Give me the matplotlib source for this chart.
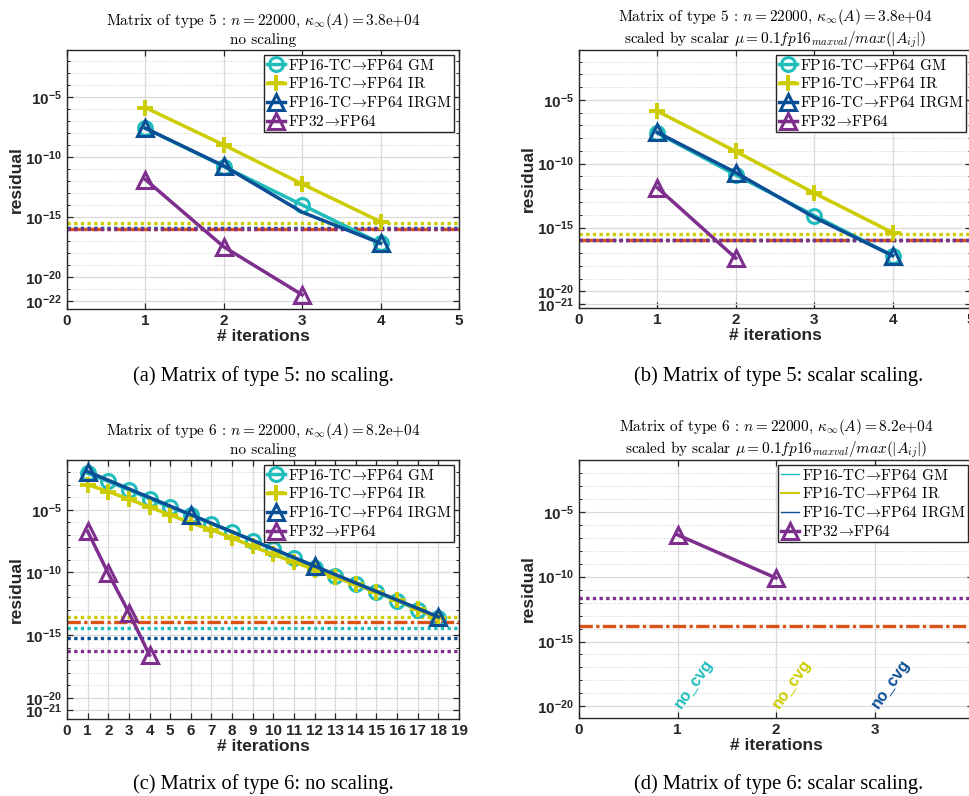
import math
import matplotlib
matplotlib.use("Agg")
import matplotlib.pyplot as plt
from matplotlib.lines import Line2D
from matplotlib.ticker import FixedLocator, FuncFormatter, NullFormatter

# ==========================================
# Dane
# ==========================================
ARROW = "$\\!\\rightarrow\\!$"
labels = ["FP16-TC" + ARROW + "FP64 GM", "FP16-TC" + ARROW + "FP64 IR",
          "FP16-TC" + ARROW + "FP64 IRGM", "FP32" + ARROW + "FP64"]

# (a) typ 5, bez skalowania
a_it = [1, 2, 3, 4]
a_gm = [2.5e-08, 1.6e-11, 1.0e-14, 6.3e-18]
a_ir = [1.3e-06, 1.0e-09, 5.6e-13, 4.0e-16]
a_irgm = [2.5e-08, 1.8e-11, 2.5e-15, 6.3e-18]
a_fp32_it = [1, 2, 3]
a_fp32 = [1.3e-12, 3.2e-18, 3.2e-22]
a_levels = {"ir": 3.4e-16, "gm": 1.2e-16, "irgm": 1.2e-16, "orange": 1.07e-16, "fp32": 1.07e-16}

# (b) typ 5, skalowanie skalarne
b_it = [1, 2, 3, 4]
b_gm = [2.5e-08, 1.3e-11, 8.7e-15, 6.3e-18]
b_ir = [1.3e-06, 9.1e-10, 5.0e-13, 4.0e-16]
b_irgm = [2.8e-08, 2.0e-11, 6.3e-15, 6.3e-18]
b_fp32_it = [1, 2]
b_fp32 = [1.3e-12, 4.0e-18]
b_levels = {"ir": 3.2e-16, "gm": 1.15e-16, "irgm": 1.15e-16, "orange": 1.15e-16, "fp32": 1.15e-16}

# (c) typ 6, bez skalowania
c_it = list(range(1, 19))
c_gm = [8.1e-03, 1.8e-03, 3.9e-04, 7.4e-05, 1.6e-05, 4.0e-06, 7.9e-07, 1.7e-07, 3.5e-08,
        6.8e-09, 1.4e-09, 2.3e-10, 5.1e-11, 1.1e-11, 2.5e-12, 5.6e-13, 1.0e-13, 2.5e-14]
c_ir = [1.0e-03, 2.8e-04, 7.1e-05, 1.6e-05, 4.0e-06, 8.7e-07, 2.6e-07, 5.6e-08, 1.2e-08,
        2.7e-09, 6.6e-10, 1.7e-10, 4.0e-11, 1.1e-11, 2.8e-12, 6.3e-13, 1.1e-13, 2.1e-14]
c_irgm_it = [1, 6, 12, 18]
c_irgm = [1.1e-02, 4.0e-06, 3.2e-10, 2.8e-14]
c_fp32_it = [1, 2, 3, 4]
c_fp32 = [1.9e-07, 8.3e-11, 6.3e-14, 2.5e-17]
c_levels = {"ir": 2.8e-14, "orange": 1.15e-14, "gm": 3.4e-15, "irgm": 5.8e-16, "fp32": 5.6e-17}

# (d) typ 6, skalowanie skalarne
d_fp32_it = [1, 2]
d_fp32 = [1.7e-07, 7.9e-11]
d_levels = {"orange": 1.5e-14, "fp32": 2.3e-12}
d_nocvg_x = [1, 2, 3]

# ==========================================
# Styl
# ==========================================
C_GM = "#21BDBD"
C_IR = "#CCCC00"
C_IRGM = "#0A4F96"
C_FP32 = "#7E2F8E"
C_OR = "#D95319"
DARK = "#262626"

plt.rcParams["font.family"] = "Liberation Sans"
plt.rcParams["font.weight"] = "bold"
plt.rcParams["mathtext.fontset"] = "custom"
plt.rcParams["mathtext.rm"] = "Liberation Sans:bold"
plt.rcParams["mathtext.bf"] = "Liberation Sans:bold"
plt.rcParams["mathtext.it"] = "Liberation Sans:bold"

TITLE_KW = dict(fontfamily="cmr10", math_fontfamily="cm", fontweight="normal", fontsize=11)
DOTS = (0, (1, 1))
DASHDOT = (0, (4, 1, 1, 1))


def draw_levels(ax, lv, xmax):
    styles = {"ir": (C_IR, DOTS), "gm": (C_GM, DOTS), "irgm": (C_IRGM, DOTS),
              "orange": (C_OR, DASHDOT), "fp32": (C_FP32, DOTS)}
    for key in ["ir", "gm", "irgm", "orange", "fp32"]:
        if key in lv:
            col, ls = styles[key]
            ax.plot([0, xmax], [lv[key], lv[key]], color=col, linestyle=ls, lw=2.4, zorder=2)


def style_axes(ax, xmax, ylim, yticks_exp, xticks):
    ax.set_yscale("log")
    ax.set_xlim(0, xmax)
    ax.set_ylim(*ylim)
    ax.set_xticks(list(xticks))
    ax.yaxis.set_major_locator(FixedLocator([10.0 ** e for e in yticks_exp]))
    ax.yaxis.set_major_formatter(FuncFormatter(lambda v, p: "$\\mathbf{10^{%d}}$" % round(math.log10(v))))
    minors = [10.0 ** e for e in range(-23, 0) if e not in yticks_exp]
    ax.yaxis.set_minor_locator(FixedLocator(minors))
    ax.yaxis.set_minor_formatter(NullFormatter())
    ax.grid(True, which="major", color="#DADADA", lw=0.9, linestyle="-", zorder=0)
    ax.grid(True, which="minor", axis="y", color="#C8C8C8", lw=0.7, linestyle=(0, (1, 2)), zorder=0)
    ax.set_axisbelow(True)
    ax.tick_params(which="both", direction="in", top=True, right=True, colors=DARK, labelsize=11)
    ax.tick_params(which="major", length=4, width=0.9)
    ax.tick_params(which="minor", length=2, width=0.7)
    for lbl in ax.get_xticklabels():
        lbl.set_fontweight("bold")
    for sp in ax.spines.values():
        sp.set_color(DARK)
        sp.set_linewidth(1.0)
    ax.set_xlabel("# iterations", fontsize=12.5, fontweight="bold", color=DARK, labelpad=1)
    ax.set_ylabel("residual", fontsize=12.5, fontweight="bold", color=DARK, labelpad=1)


def add_legend(ax, handles=None):
    kw = dict(loc="upper right", prop=dict(family="cmr10", size=11, math_fontfamily="cm"),
              fancybox=False, framealpha=1, edgecolor=DARK, borderpad=0.2,
              labelspacing=0.25, handlelength=1.2, handletextpad=0.15, borderaxespad=0.3)
    if handles is None:
        leg = ax.legend(**kw)
    else:
        leg = ax.legend(handles=handles, labels=labels, **kw)
    leg.get_frame().set_linewidth(1.0)
    leg.set_zorder(10)


def draw_series(ax, it, gm, ir, irgm_it, irgm, fp32_it, fp32, irgm_every=None):
    ax.plot(it, gm, color=C_GM, lw=2.5, marker="o", ms=10, mfc="none", mew=2.2, label=labels[0], zorder=3)
    ax.plot(it, ir, color=C_IR, lw=2.5, marker="+", ms=12, mew=2.8, label=labels[1], zorder=4)
    ax.plot(irgm_it, irgm, color=C_IRGM, lw=2.5, marker="^", ms=11, mfc="none", mew=2.2,
            markevery=irgm_every, label=labels[2], zorder=5)
    ax.plot(fp32_it, fp32, color=C_FP32, lw=2.5, marker="^", ms=11, mfc="none", mew=2.2,
            label=labels[3], zorder=6)


fig = plt.figure(figsize=(9.69, 7.96), dpi=100)
W, H = 969.0, 796.0


def axes_px(l, r, t, b):
    return fig.add_axes([l / W, 1 - b / H, (r - l) / W, (b - t) / H])


ax_a = axes_px(67, 459, 50, 309)
ax_b = axes_px(579, 971, 50, 308)
ax_c = axes_px(67, 459, 460, 719)
ax_d = axes_px(579, 973, 460, 718)

# (a)
draw_levels(ax_a, a_levels, 5)
draw_series(ax_a, a_it, a_gm, a_ir, a_it, a_irgm, a_fp32_it, a_fp32, irgm_every=[0, 1, 3])
style_axes(ax_a, 5, (2.1e-23, 0.083), [-22, -20, -15, -10, -5], range(0, 6))
ax_a.set_title("Matrix of type 5 : $n = 22000$, $\\kappa_{\\infty}(A) = 3.8$e+04\nno scaling", pad=4, **TITLE_KW)
add_legend(ax_a)

# (b)
draw_levels(ax_b, b_levels, 5)
draw_series(ax_b, b_it, b_gm, b_ir, b_it, b_irgm, b_fp32_it, b_fp32, irgm_every=[0, 1, 3])
style_axes(ax_b, 5, (5e-22, 0.08), [-21, -20, -15, -10, -5], range(0, 6))
ax_b.set_title("Matrix of type 5 : $n = 22000$, $\\kappa_{\\infty}(A) = 3.8$e+04\n"
               "scaled by scalar $\\mu = 0.1 fp16_{maxval}/max(|A_{ij}|)$", pad=4, **TITLE_KW)
add_legend(ax_b)

# (c)
draw_levels(ax_c, c_levels, 19)
draw_series(ax_c, c_it, c_gm, c_ir, c_irgm_it, c_irgm, c_fp32_it, c_fp32)
style_axes(ax_c, 19, (2e-22, 0.093), [-21, -20, -15, -10, -5], range(0, 20))
ax_c.set_title("Matrix of type 6 : $n = 22000$, $\\kappa_{\\infty}(A) = 8.2$e+04\nno scaling", pad=4, **TITLE_KW)
add_legend(ax_c)

# (d)
draw_levels(ax_d, d_levels, 4)
ax_d.plot(d_fp32_it, d_fp32, color=C_FP32, lw=2.5, marker="^", ms=11, mfc="none", mew=2.2, zorder=6)
style_axes(ax_d, 4, (1.26e-21, 0.1), [-20, -15, -10, -5], range(0, 5))
ax_d.set_title("Matrix of type 6 : $n = 22000$, $\\kappa_{\\infty}(A) = 8.2$e+04\n"
               "scaled by scalar $\\mu = 0.1 fp16_{maxval}/max(|A_{ij}|)$", pad=4, **TITLE_KW)
d_handles = [Line2D([], [], color=C_GM, lw=1), Line2D([], [], color=C_IR, lw=1.5),
             Line2D([], [], color=C_IRGM, lw=1),
             Line2D([], [], color=C_FP32, lw=2.5, marker="^", ms=11, mfc="none", mew=2.2)]
add_legend(ax_d, d_handles)
for xx, col in zip(d_nocvg_x, [C_GM, C_IR, C_IRGM]):
    ax_d.text(xx, 1e-20, "no_cvg", color=col, fontsize=11.5, fontweight="bold", rotation=55,
              rotation_mode="anchor", ha="left", va="center", zorder=7)

# podpisy
CAP = dict(fontfamily="Liberation Serif", fontweight="normal", fontsize=14.8, ha="center", va="center")
fig.text(263 / W, 1 - 376 / H, "(a) Matrix of type 5: no scaling.", **CAP)
fig.text(779 / W, 1 - 376 / H, "(b) Matrix of type 5: scalar scaling.", **CAP)
fig.text(263 / W, 1 - 784 / H, "(c) Matrix of type 6: no scaling.", **CAP)
fig.text(779 / W, 1 - 784 / H, "(d) Matrix of type 6: scalar scaling.", **CAP)

fig.savefig("out.png", dpi=100)
